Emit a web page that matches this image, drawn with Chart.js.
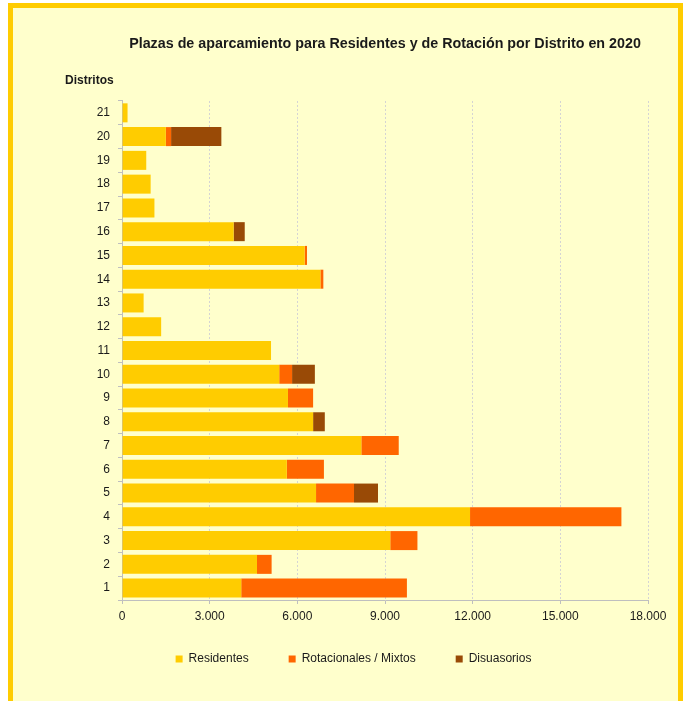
<!DOCTYPE html>
<html>
<head>
<meta charset="utf-8">
<script src="https://cdn.jsdelivr.net/npm/chart.js@4/dist/chart.umd.min.js"></script>
<style>
  body { margin: 0; background: #fff; }
  #frame {
    position: absolute; left: 8px; top: 3px;
    width: 665px; height: 720px;
    border: 5px solid #FFCC00; background: #FFFFCC;
  }
  #chart { position: absolute; left: 0; top: 0; }
</style>
</head>
<body>
<div id="frame"></div>
<canvas id="chart" width="683" height="701"></canvas>
<script>
// Distritos 1..21
const distritos = ['1','2','3','4','5','6','7','8','9','10','11','12','13','14','15','16','17','18','19','20','21'];
const residentes     = [4080, 4620, 9180, 11910, 6640, 5640, 8190, 6540, 5680, 5380, 5100, 1340, 740, 6790, 6250, 3820, 1110, 980, 830, 1500, 190];
const rotacionales   = [5670, 500, 930, 5180, 1300, 1270, 1280, 0, 860, 440, 0, 0, 0, 100, 80, 0, 0, 0, 0, 180, 0];
const disuasorios    = [0, 0, 0, 0, 820, 0, 0, 400, 0, 780, 0, 0, 0, 0, 0, 380, 0, 0, 0, 1720, 0];
const xTicks = [0, 3000, 6000, 9000, 12000, 15000, 18000];

function fmt(v) {
    return String(v).replace(/\B(?=(\d{3})+(?!\d))/g, '.');
}

Chart.defaults.font.family = '"Liberation Sans", Arial, sans-serif';
Chart.defaults.color = '#1a1a1a';

// "Distritos" label sits above the category axis, horizontal
const axisCaption = {
    id: 'axisCaption',
    afterLayout(chart) {
        // pull the legend up closer to the x axis labels
        const lg = chart.legend;
        const dy = lg.top - (chart.chartArea.bottom + 13);
        lg.top -= dy;
        lg.bottom -= dy;
    },
    afterDraw(chart) {
        const ctx = chart.ctx;
        ctx.save();
        ctx.font = 'bold 12px "Liberation Sans", Arial, sans-serif';
        ctx.fillStyle = '#1a1a1a';
        ctx.textBaseline = 'middle';
        ctx.textAlign = 'left';
        ctx.fillText('Distritos', 65, 81);
        ctx.restore();
    }
};

new Chart(document.getElementById('chart').getContext('2d'), {
    type: 'bar',
    data: {
        labels: distritos,
        datasets: [
            { label: 'Residentes', data: residentes, backgroundColor: '#FFCC00' },
            { label: 'Rotacionales / Mixtos', data: rotacionales, backgroundColor: '#FF6600' },
            { label: 'Disuasorios', data: disuasorios, backgroundColor: '#994A06' }
        ]
    },
    options: {
        indexAxis: 'y',
        responsive: false,
        animation: false,
        layout: { padding: { left: 59, right: 35, top: 0, bottom: 10.6 } },
        datasets: { bar: { barPercentage: 0.8, categoryPercentage: 1 } },
        scales: {
            x: {
                stacked: true,
                min: 0, max: 18000,
                afterBuildTicks(scale) { scale.ticks = xTicks.map(v => ({ value: v })); },
                ticks: { callback: v => fmt(v), font: { size: 12 }, padding: 5, maxRotation: 0 },
                grid: { color: '#D4D4D4', tickColor: '#BFBFBF', tickLength: 4 },
                border: { color: '#BFBFBF', dash: [2, 2] }
            },
            y: {
                stacked: true,
                reverse: true,
                afterFit(scale) { scale.width = 63; },
                ticks: { font: { size: 12 }, padding: 8 },
                grid: { drawOnChartArea: false, color: '#BFBFBF', tickLength: 4 },
                border: { color: '#BFBFBF' }
            }
        },
        plugins: {
            title: {
                display: true,
                fullSize: false,
                text: 'Plazas de aparcamiento para Residentes y de Rotación por Distrito en 2020',
                font: { size: 14.3, weight: 'bold' },
                color: '#1a1a1a',
                padding: { top: 35, bottom: 48.8 }
            },
            legend: {
                position: 'bottom',
                labels: { boxWidth: 7, boxHeight: 7, padding: 40, font: { size: 12 }, color: '#1a1a1a' }
            },
            tooltip: { enabled: false }
        }
    },
    plugins: [axisCaption]
});
</script>
</body>
</html>
